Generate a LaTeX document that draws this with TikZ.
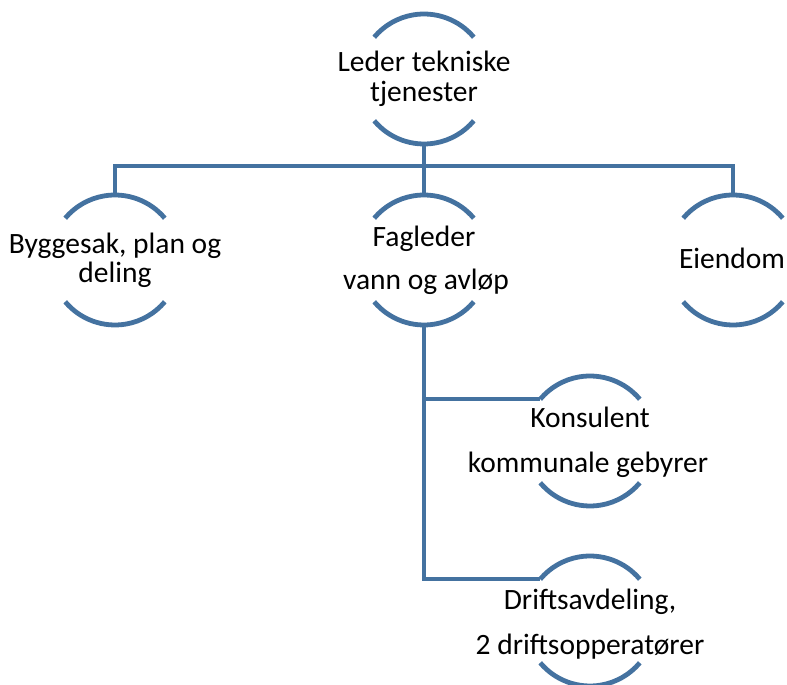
\documentclass[tikz,border=0pt]{standalone}
\usepackage{fontspec}
\setmainfont{Carlito}
\definecolor{arcblue}{RGB}{68,114,160}
\begin{document}
\begin{tikzpicture}[x=1pt,y=1pt,
  ring/.style={circle,minimum size=130pt,inner sep=0pt,outer sep=0pt,draw=none},
  arcline/.style={draw=arcblue,line width=4.8pt},
  conn/.style={draw=arcblue,line width=4.5pt},
  lbl/.style={anchor=base,inner sep=0pt,font=\fontsize{29.5}{35}\selectfont}]
\useasboundingbox (0,0) rectangle (787,685);
% circles
\node[ring] (top) at (424,606) {};
\node[ring] (byg) at (115,425) {};
\node[ring] (fag) at (424,425) {};
\node[ring] (eie) at (733,425) {};
\node[ring] (kon) at (590,244) {};
\node[ring] (dri) at (590,64) {};
\foreach \n in {top,byg,fag,eie,kon,dri}{
  \draw[arcline] (\n.40) arc[start angle=40,end angle=140,radius=65pt];
  \draw[arcline] (\n.220) arc[start angle=220,end angle=320,radius=65pt];
}
% connectors
\coordinate (bar) at (424,519);
\draw[conn] (top.south) -- (bar);
\draw[conn] (byg.north) |- (bar) -| (eie.north);
\draw[conn] (bar) -- (fag.north);
\draw[conn] (fag.south) |- (kon.140);
\draw[conn] (fag.south) |- (dri.140);
% labels
\node[lbl] (t1) at (424,613) {Leder tekniske};
\node[lbl] (t2) at (424,583) {tjenester};
\node[lbl] (b1) at (115,431) {Byggesak, plan og};
\node[lbl] (b2) at (115,402) {deling};
\node[lbl] (f1) at (424,438) {Fagleder};
\node[lbl] (f2) at (426,395) {vann og avløp};
\node[lbl] (e1) at (732,416) {Eiendom};
\node[lbl] (k1) at (590,257) {Konsulent};
\node[lbl] (k2) at (588,212) {kommunale gebyrer};
\node[lbl] (d1) at (590,75) {Driftsavdeling,};
\node[lbl] (d2) at (590,30) {2 driftsopperatører};
\end{tikzpicture}
\end{document}
